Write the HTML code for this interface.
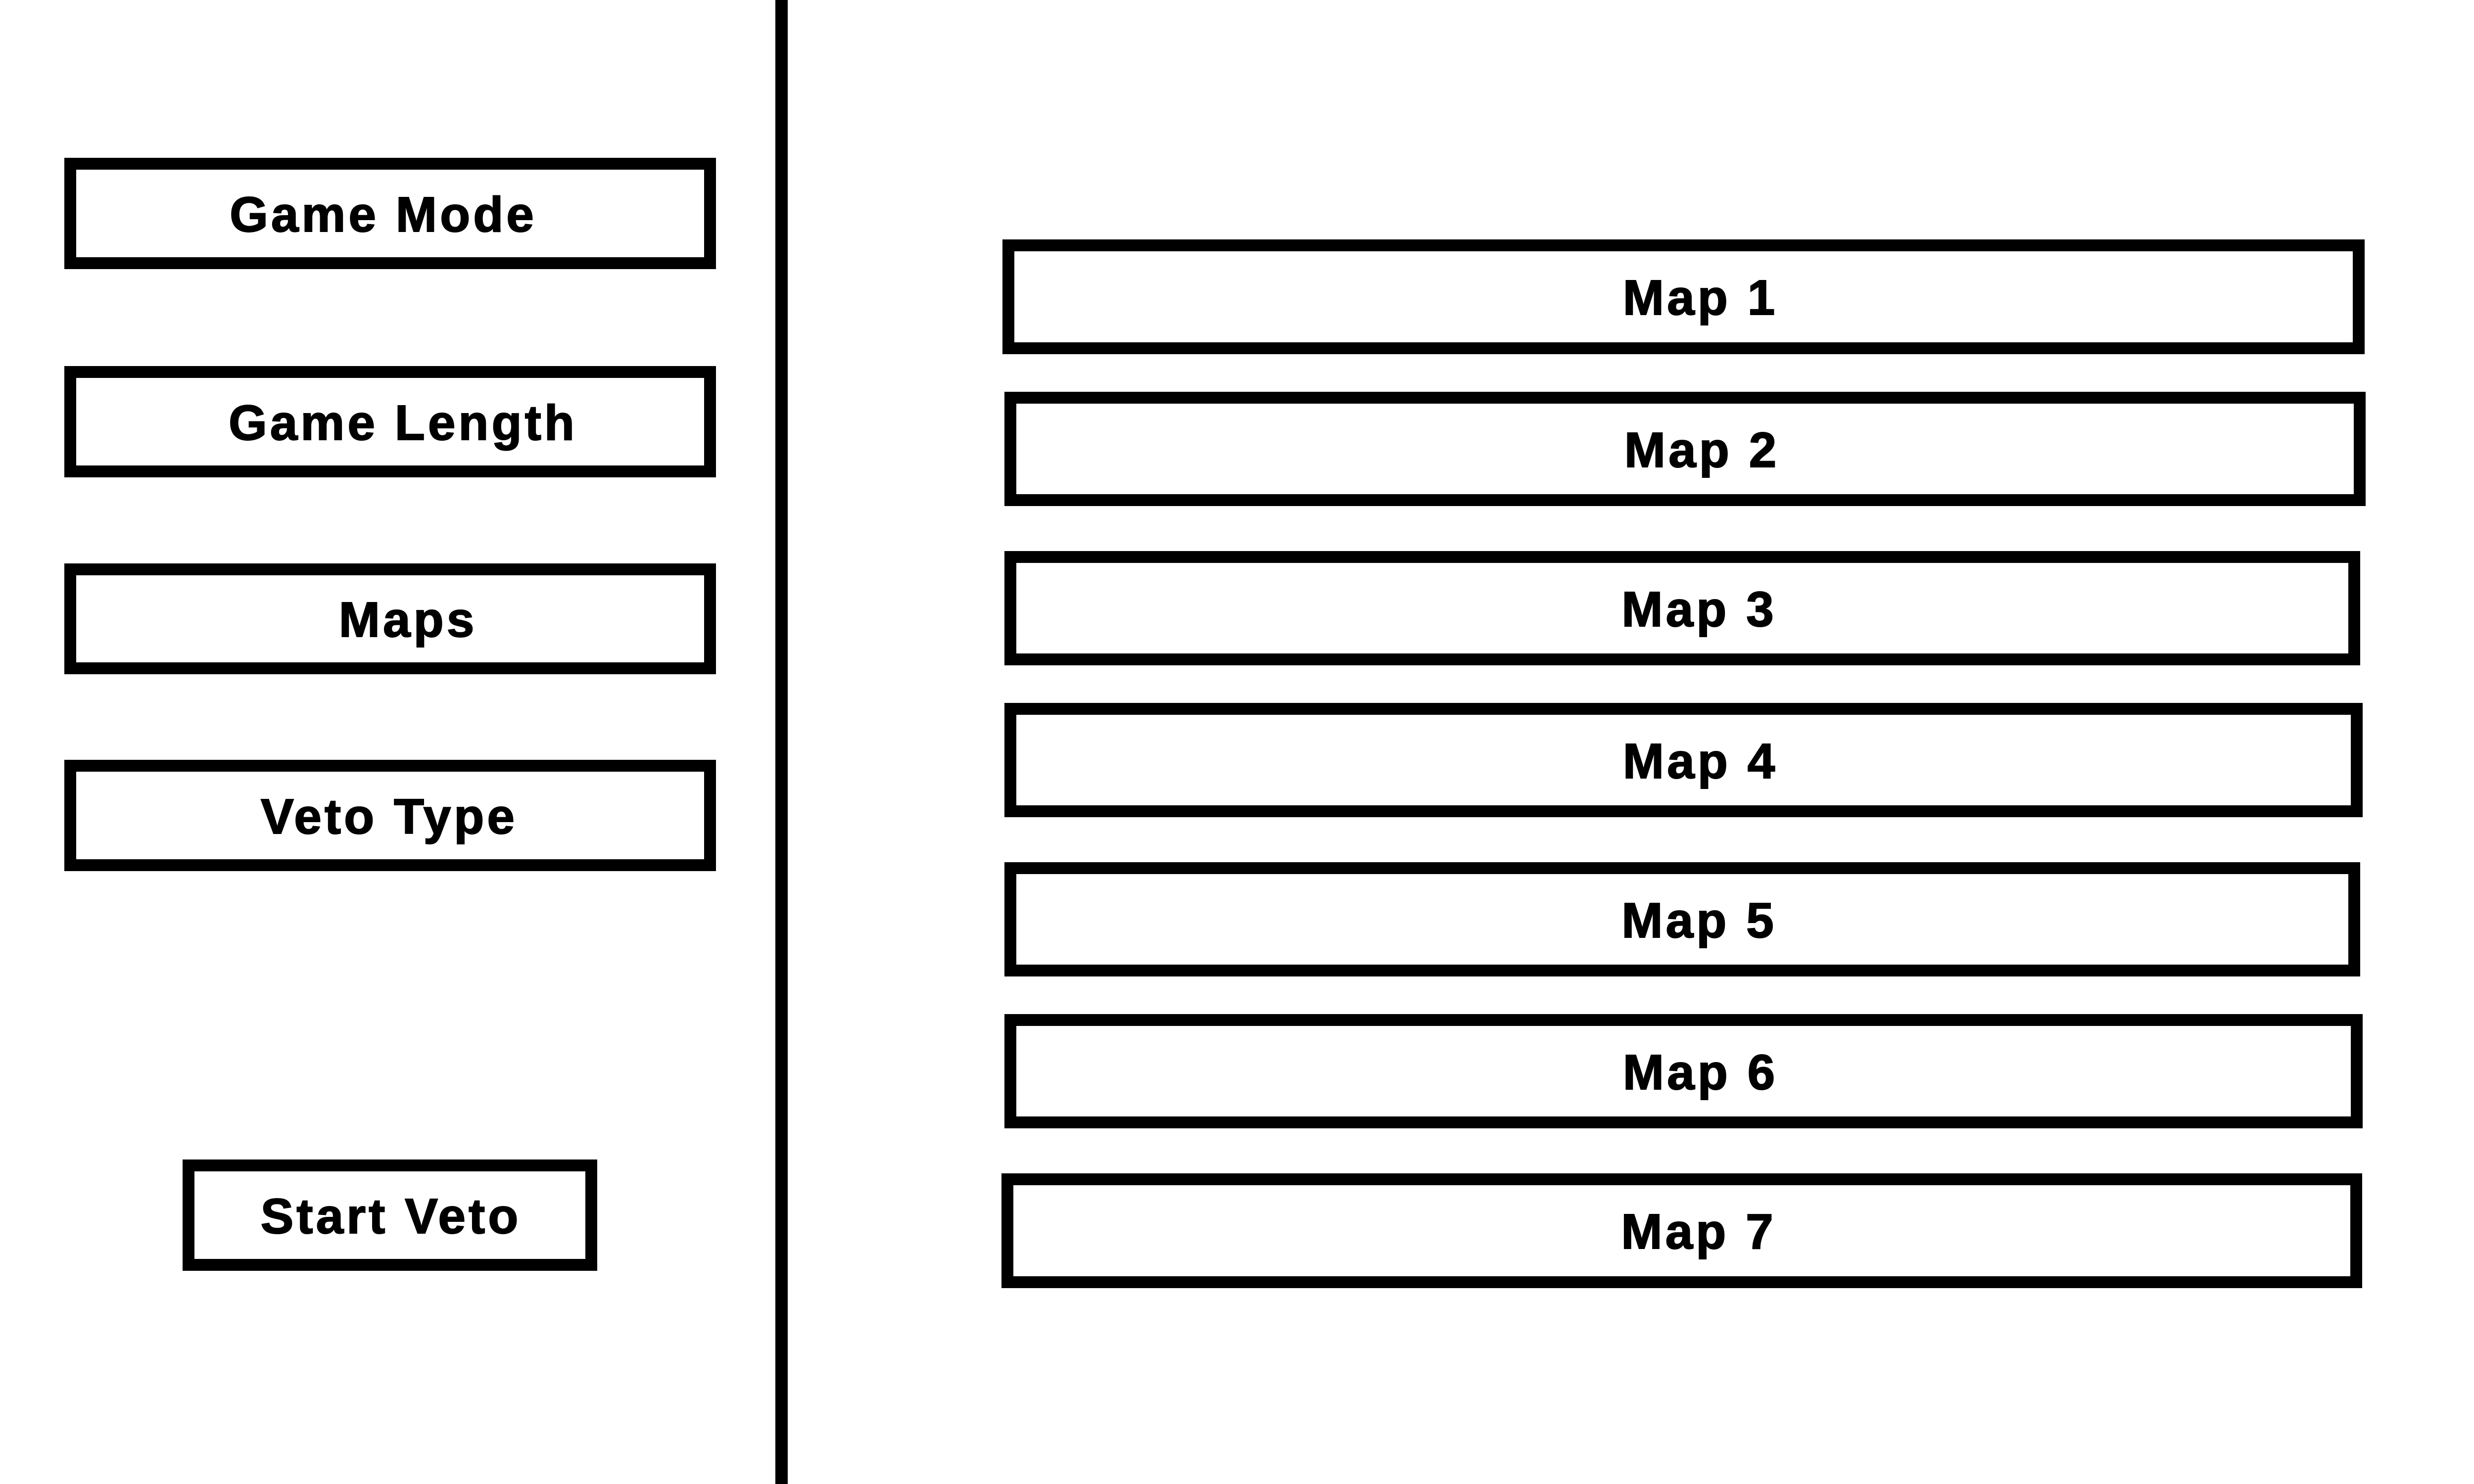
<!DOCTYPE html>
<html><head><meta charset="utf-8"><style>
html,body{margin:0;padding:0;background:#fff;}
body{width:5333px;height:3000px;position:relative;overflow:hidden;font-family:"Liberation Sans",Arial,sans-serif;}
.b{position:absolute;box-sizing:border-box;border:24px solid #000;background:#fff;display:flex;align-items:center;justify-content:center;}
.b span{font-weight:bold;font-size:100px;letter-spacing:6px;line-height:1;white-space:nowrap;position:relative;top:2px;-webkit-text-stroke:2px #000;}
.line{position:absolute;left:1567px;top:0;width:25px;height:3000px;background:#000;}
</style></head><body>
<div class="line"></div>
<div class="b" style="left:130px;top:319px;width:1317px;height:225px"><span style="left:-14px">Game Mode</span></div>
<div class="b" style="left:130px;top:740px;width:1317px;height:225px"><span style="left:26px">Game Length</span></div>
<div class="b" style="left:130px;top:1139px;width:1317px;height:224px"><span style="left:36px">Maps</span></div>
<div class="b" style="left:130px;top:1536px;width:1317px;height:225px"><span style="left:-2px">Veto Type</span></div>
<div class="b" style="left:369px;top:2344px;width:838px;height:225px"><span style="left:2px">Start Veto</span></div>

<div class="b" style="left:2026px;top:484px;width:2753px;height:232px"><span style="left:34px">Map 1</span></div>
<div class="b" style="left:2030px;top:792px;width:2751px;height:231px"><span style="left:34px">Map 2</span></div>
<div class="b" style="left:2030px;top:1114px;width:2740px;height:231px"><span style="left:34px">Map 3</span></div>
<div class="b" style="left:2030px;top:1421px;width:2745px;height:231px"><span style="left:34px">Map 4</span></div>
<div class="b" style="left:2030px;top:1743px;width:2740px;height:231px"><span style="left:34px">Map 5</span></div>
<div class="b" style="left:2030px;top:2050px;width:2745px;height:231px"><span style="left:34px">Map 6</span></div>
<div class="b" style="left:2024px;top:2372px;width:2750px;height:232px"><span style="left:34px">Map 7</span></div>
</body></html>
